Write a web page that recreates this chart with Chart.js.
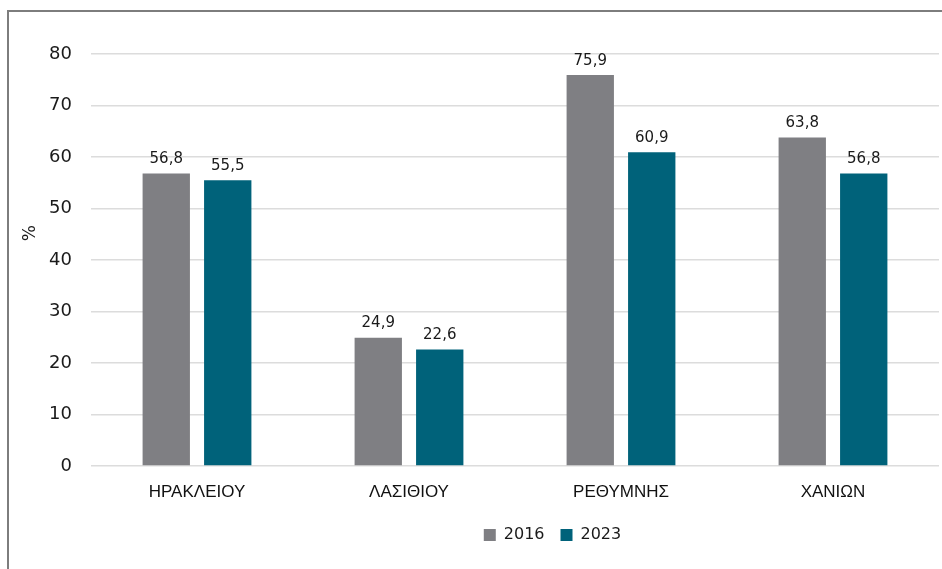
<!DOCTYPE html>
<html>
<head>
<meta charset="utf-8">
<script src="https://cdn.jsdelivr.net/npm/chart.js@4/dist/chart.umd.min.js"></script>
<style>
  html, body { margin: 0; padding: 0; background: #fff; }
  #wrap { position: relative; width: 942px; height: 569px; overflow: hidden; }
  #frame { position: absolute; left: 7px; top: 10px; width: 940px; height: 570px;
           border-top: 2px solid #7d7d7d; border-left: 2px solid #7d7d7d; }
  #c { position: absolute; left: 0; top: 0; }
</style>
</head>
<body>
<div id="wrap">
  <div id="frame"></div>
  <canvas id="c" width="942" height="569"></canvas>
</div>
<script>
const categories = ["ΗΡΑΚΛΕΙΟΥ", "ΛΑΣΙΘΙΟΥ", "ΡΕΘΥΜΝΗΣ", "ΧΑΝΙΩΝ"];
const values2016 = [56.8, 24.9, 75.9, 63.8];
const values2023 = [55.5, 22.6, 60.9, 56.8];
const yTicks = [0, 10, 20, 30, 40, 50, 60, 70, 80];

const numFont = "'DejaVu Sans', sans-serif";

// etiquetas de valor sobre as barras
const valueLabels = {
  id: 'valueLabels',
  afterDatasetsDraw(chart) {
    const ctx = chart.ctx;
    ctx.save();
    ctx.font = "15px " + numFont;
    ctx.fillStyle = '#1a1a1a';
    ctx.textAlign = 'center';
    ctx.textBaseline = 'bottom';
    chart.data.datasets.forEach((ds, i) => {
      chart.getDatasetMeta(i).data.forEach((bar, j) => {
        const txt = ds.data[j].toFixed(1).replace('.', ',');
        ctx.fillText(txt, bar.x, bar.y - 7);
      });
    });
    ctx.restore();
  }
};

// título do eixo y ("%")
const yTitle = {
  id: 'yTitle',
  afterDraw(chart) {
    const ctx = chart.ctx;
    const a = chart.chartArea;
    ctx.save();
    ctx.font = "17px " + numFont;
    ctx.fillStyle = '#1a1a1a';
    ctx.translate(31, a.top + (a.bottom - a.top) * 0.435);
    ctx.rotate(-Math.PI / 2);
    ctx.textAlign = 'center';
    ctx.textBaseline = 'middle';
    ctx.fillText('%', 0, 0);
    ctx.restore();
  }
};

// desloca a legenda para a direita
const legendShift = {
  id: 'legendShift',
  afterLayout(chart) {
    chart.legend.left += 83;
    chart.legend.right += 83;
  }
};

new Chart(document.getElementById('c'), {
  type: 'bar',
  data: {
    labels: categories,
    datasets: [
      { label: '2016', data: values2016, backgroundColor: '#7f7f83' },
      { label: '2023', data: values2023, backgroundColor: '#00627a' }
    ]
  },
  plugins: [valueLabels, yTitle, legendShift],
  options: {
    responsive: false,
    animation: false,
    layout: { padding: { top: 54, right: 3, left: 0, bottom: 16 } },
    datasets: { bar: { categoryPercentage: 0.58, barPercentage: 0.77 } },
    scales: {
      x: {
        grid: { display: false, drawTicks: false },
        border: { display: false },
        ticks: { padding: 16, color: '#111', font: { family: "'Liberation Sans', Arial, sans-serif", size: 17 } },
        afterFit(scale) { scale.height = 45; }
      },
      y: {
        min: 0,
        max: 80,
        afterBuildTicks(scale) { scale.ticks = yTicks.map(v => ({ value: v })); },
        grid: { color: '#dcdcdc', lineWidth: 1.5, drawTicks: false },
        border: { display: false },
        ticks: { padding: 19, color: '#1a1a1a', font: { family: numFont, size: 18 } },
        afterFit(scale) { scale.width = 91; }
      }
    },
    plugins: {
      legend: {
        position: 'bottom',
        labels: {
          boxWidth: 12,
          boxHeight: 12,
          padding: 16,
          color: '#1a1a1a',
          font: { family: numFont, size: 16 }
        }
      },
      tooltip: { enabled: false }
    }
  }
});
</script>
</body>
</html>
